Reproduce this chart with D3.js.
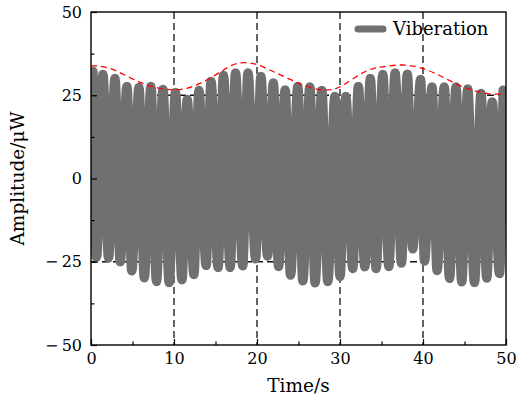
<!DOCTYPE html>
<html>
<head>
<meta charset="utf-8">
<script src="https://cdn.jsdelivr.net/npm/d3@7"></script>
<style>
  body { margin: 0; background: #fff; }
  svg text { font-family: "DejaVu Serif", serif; fill: #000; }
</style>
</head>
<body>
<div id="chart"></div>
<script>

// peaks of the vibration trace (time in s, amplitude in uW)
var upperTimes = [0.24, 1.44, 2.89, 4.33, 5.78, 7.22, 8.67, 10.17, 11.59, 13.0, 14.46, 15.96,
    17.41, 18.91, 20.47, 21.97, 23.39, 24.92, 26.37, 27.81, 29.38, 30.70, 32.21, 33.65,
    35.16, 36.64, 38.11, 39.71, 41.09, 42.56, 43.98, 45.39, 46.99, 48.34, 49.66];
var upperValues = [32.1, 31.2, 30.0, 27.6, 27.3, 27.6, 26.7, 25.8, 23.7, 26.4, 29.1, 30.9,
    31.7, 31.7, 30.6, 28.7, 26.6, 27.6, 27.5, 26.4, 24.6, 24.6, 27.6, 30.0,
    31.2, 31.7, 31.3, 29.7, 27.5, 27.5, 27.5, 26.9, 25.5, 23.0, 26.5];

// troughs of the vibration trace
var lowerTimes = [0.66, 2.11, 3.52, 4.91, 6.42, 7.89, 9.42, 10.96, 12.40, 13.87, 15.31, 16.77,
    18.28, 19.83, 21.27, 22.60, 24.04, 25.52, 27.0, 28.53, 30.0, 31.54, 32.99, 34.35,
    35.88, 37.40, 38.77, 40.18, 41.70, 43.19, 44.67, 46.20, 47.68, 49.21];
var lowerValues = [-23.6, -23.8, -25.0, -27.7, -29.8, -30.9, -31.2, -30.4, -28.8, -26.1, -26.7, -26.7,
    -26.2, -24.1, -23.3, -26.4, -29.0, -30.7, -31.3, -30.9, -29.4, -27.0, -26.5, -27.0,
    -26.4, -25.4, -21.1, -24.8, -27.6, -30.0, -31.0, -31.2, -29.9, -28.5];

// red envelope
var envTimes = [0, 2, 4, 6, 8, 10, 11.7, 13.7, 15.7, 17, 18.5, 20, 21.7, 23.7, 25.7, 27.7,
    29.3, 30.5, 32.5, 34, 35.5, 37.5, 39.4, 41.4, 43.4, 45.4, 47.4, 48.6, 50];
var envValues = [33.9, 33.6, 31.2, 28.6, 27.1, 26.4, 27.0, 29.1, 32.1, 34.3, 35.0, 34.4, 32.4, 30.1, 27.8, 26.4,
    26.6, 28.1, 31.6, 33.2, 33.7, 34.3, 33.6, 31.8, 29.1, 26.8, 25.6, 25.2, 25.6];

var xTicks = [0, 10, 20, 30, 40, 50];
var xMinor = [5, 15, 25, 35, 45];
var yTicks = [-50, -25, 0, 25, 50];
var yMinor = [-37.5, -12.5, 12.5, 37.5];
var vLines = [10, 20, 30, 40];
var hLines = [-25, 25];

var width = 518, height = 403;
var margin = {top: 12, right: 12, bottom: 58, left: 91};
var w = width - margin.left - margin.right;
var h = height - margin.top - margin.bottom;

var svg = d3.select("#chart").append("svg")
    .attr("width", width)
    .attr("height", height);

var g = svg.append("g")
    .attr("transform", "translate(" + margin.left + "," + margin.top + ")");

var x = d3.scaleLinear().domain([0, 50]).range([0, w]);
var y = d3.scaleLinear().domain([-50, 50]).range([h, 0]);

g.append("clipPath").attr("id", "plotclip")
    .append("rect").attr("width", w).attr("height", h);

// dashed guides
g.selectAll(".vline").data(vLines).enter().append("line")
    .attr("class", "vline")
    .attr("x1", function(d) { return x(d); })
    .attr("x2", function(d) { return x(d); })
    .attr("y1", 0).attr("y2", h)
    .attr("stroke", "#111").attr("stroke-width", 1.3)
    .attr("stroke-dasharray", "7,4");

g.selectAll(".hline").data(hLines).enter().append("line")
    .attr("class", "hline")
    .attr("x1", 0).attr("x2", w)
    .attr("y1", function(d) { return y(d); })
    .attr("y2", function(d) { return y(d); })
    .attr("stroke", "#111").attr("stroke-width", 1.3)
    .attr("stroke-dasharray", "7,4");

// merge peaks and troughs into one trace
var trace = [];
upperTimes.forEach(function(t, i) {
    trace.push({t: t, v: upperValues[i]});
    if (i < lowerTimes.length) trace.push({t: lowerTimes[i], v: lowerValues[i]});
});

var line = d3.line()
    .x(function(d) { return x(d.t); })
    .y(function(d) { return y(d.v); })
    .curve(d3.curveMonotoneX);

g.append("path")
    .datum(trace)
    .attr("clip-path", "url(#plotclip)")
    .attr("d", line)
    .attr("fill", "none")
    .attr("stroke", "#707070")
    .attr("stroke-width", 9.5)
    .attr("stroke-linejoin", "round")
    .attr("stroke-linecap", "round");

var env = envTimes.map(function(t, i) { return {t: t, v: envValues[i]}; });

g.append("path")
    .datum(env)
    .attr("d", line.curve(d3.curveBasis))
    .attr("fill", "none")
    .attr("stroke", "#ff0000")
    .attr("stroke-width", 1.3)
    .attr("stroke-dasharray", "6,4");

// axes
var fmt = function(d) { return d < 0 ? "\u2212\u2009" + Math.abs(d) : d; };

g.append("g")
    .attr("transform", "translate(0," + h + ")")
    .call(d3.axisBottom(x).tickValues(xTicks).tickSize(-6).tickSizeOuter(0).tickPadding(8).tickFormat(fmt))
    .call(function(a) { a.selectAll("text").attr("font-size", 16).attr("font-family", "DejaVu Serif"); });

g.append("g")
    .attr("transform", "translate(0," + h + ")")
    .call(d3.axisBottom(x).tickValues(xMinor).tickSize(-3.5).tickSizeOuter(0).tickFormat(""));

g.append("g")
    .call(d3.axisLeft(y).tickValues(yTicks).tickSize(-6).tickSizeOuter(0).tickPadding(9).tickFormat(fmt))
    .call(function(a) { a.selectAll("text").attr("font-size", 16).attr("font-family", "DejaVu Serif"); });

g.append("g")
    .call(d3.axisLeft(y).tickValues(yMinor).tickSize(-3.5).tickSizeOuter(0).tickFormat(""));

g.selectAll(".tick line").attr("stroke", "#000").attr("stroke-width", 1.2);
g.selectAll(".domain").remove();

g.append("rect")
    .attr("width", w).attr("height", h)
    .attr("fill", "none")
    .attr("stroke", "#000")
    .attr("stroke-width", 1.4);

// titles
svg.append("text")
    .attr("x", margin.left + w / 2)
    .attr("y", 392)
    .attr("text-anchor", "middle")
    .attr("font-size", 18.5)
    .text("Time/s");

svg.append("text")
    .attr("transform", "translate(24," + (margin.top + h / 2) + ") rotate(-90)")
    .attr("text-anchor", "middle")
    .attr("font-size", 18.5)
    .text("Amplitude/\u03bcW");

// legend
svg.append("line")
    .attr("x1", 358).attr("x2", 383)
    .attr("y1", 29).attr("y2", 29)
    .attr("stroke", "#707070")
    .attr("stroke-width", 7)
    .attr("stroke-linecap", "round");

svg.append("text")
    .attr("x", 393)
    .attr("y", 35)
    .attr("font-size", 18)
    .text("Viberation");

</script>
</body>
</html>
